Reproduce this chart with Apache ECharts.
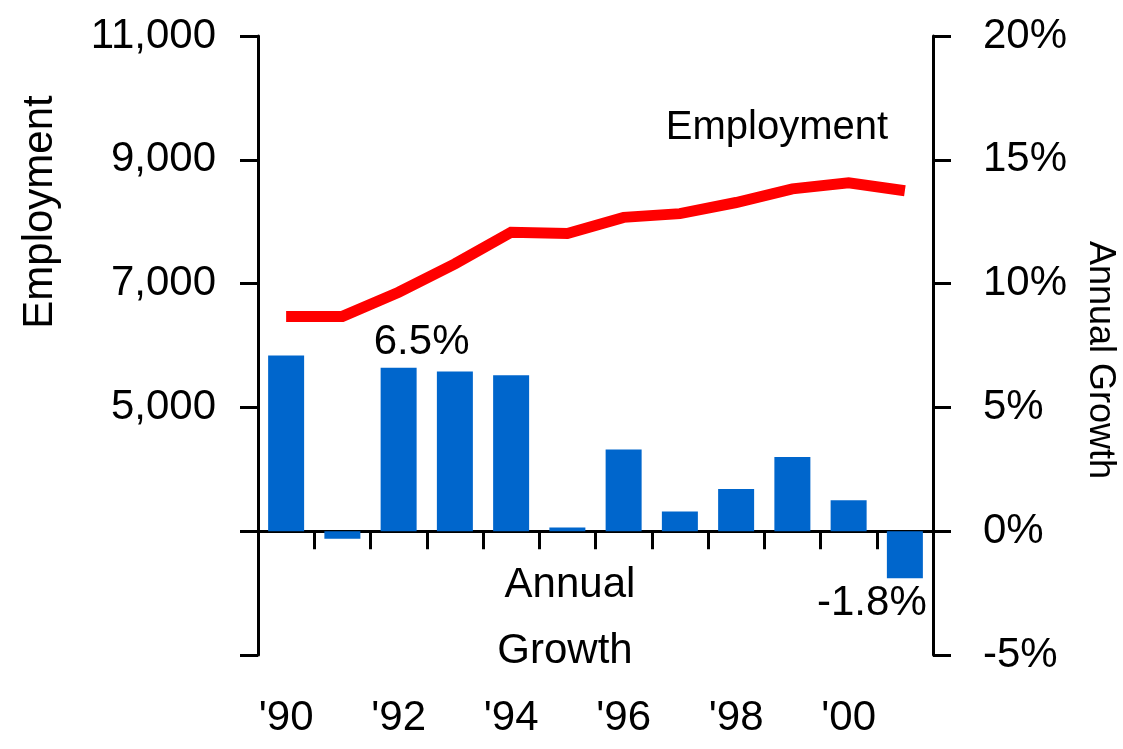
<!DOCTYPE html>
<html>
<head>
<meta charset="utf-8">
<script src="https://cdn.jsdelivr.net/npm/echarts@6/dist/echarts.min.js"></script>
<style>
  html, body { margin: 0; padding: 0; background: #ffffff; }
  #chart { width: 1123px; height: 749px; }
</style>
</head>
<body>
<div id="chart"></div>
<script>
// ---- data ----
var years = ["'90", "'91", "'92", "'93", "'94", "'95", "'96", "'97", "'98", "'99", "'00", "'01"];
var employment = [6470, 6470, 6860, 7320, 7830, 7810, 8070, 8130, 8310, 8530, 8630, 8500];
var annualGrowth = [7.1, -0.3, 6.6, 6.45, 6.3, 0.15, 3.3, 0.8, 1.7, 3.0, 1.25, -1.9];
var growthNotes = [null, null, '6.5%', null, null, null, null, null, null, null, null, '-1.8%'];
var leftTickLabels = { 1000: '', 3000: '', 5000: '5,000', 7000: '7,000', 9000: '9,000', 11000: '11,000' };
var rightTickLabels = { '-5': '-5%', '0': '0%', '5': '5%', '10': '10%', '15': '15%', '20': '20%' };

var FONT = "'Liberation Sans', Arial, sans-serif";

var noteOffsets = { 2: [23, 0], 11: [-33, 0] };
var barData = annualGrowth.map(function (v, i) {
  if (!growthNotes[i]) return v;
  return {
    value: v,
    label: {
      show: true,
      position: v >= 0 ? 'top' : 'bottom',
      distance: 4,
      offset: noteOffsets[i] || [0, 0],
      formatter: growthNotes[i],
      fontFamily: FONT,
      fontSize: 42,
      color: '#000'
    }
  };
});

var chart = echarts.init(document.getElementById('chart'), null, { renderer: 'canvas' });
chart.setOption({
  animation: false,
  backgroundColor: '#ffffff',
  grid: { left: 258, right: 190, top: 36, bottom: 94, containLabel: false, outerBoundsMode: 'none' },
  xAxis: {
    type: 'category',
    data: years,
    boundaryGap: true,
    axisLine: { show: true, onZero: true, onZeroAxisIndex: 1, lineStyle: { color: '#000', width: 3 } },
    axisTick: { show: true, inside: false, length: 18, interval: 0, lineStyle: { color: '#000', width: 3 } },
    axisLabel: { interval: 1, margin: 42, fontFamily: FONT, fontSize: 42, color: '#000' },
    splitLine: { show: false }
  },
  yAxis: [
    {
      type: 'value',
      position: 'left',
      min: 1000, max: 11000, interval: 2000,
      axisLine: { show: true, lineStyle: { color: '#000', width: 3 } },
      axisTick: { show: true, inside: false, length: 18, lineStyle: { color: '#000', width: 3 } },
      axisLabel: {
        margin: 42, fontFamily: FONT, fontSize: 42, color: '#000',
        formatter: function (v) { return leftTickLabels[v] !== undefined ? leftTickLabels[v] : ''; }
      },
      splitLine: { show: false }
    },
    {
      type: 'value',
      position: 'right',
      min: -5, max: 20, interval: 5,
      axisLine: { show: true, lineStyle: { color: '#000', width: 3 } },
      axisTick: { show: true, inside: false, length: 18, lineStyle: { color: '#000', width: 3 } },
      axisLabel: {
        margin: 50, fontFamily: FONT, fontSize: 42, color: '#000',
        formatter: function (v) { return rightTickLabels[String(v)] || ''; }
      },
      splitLine: { show: false }
    }
  ],
  series: [
    {
      name: 'Annual Growth',
      type: 'bar',
      yAxisIndex: 1,
      data: barData,
      barWidth: '64%',
      itemStyle: { color: '#0066CC' },
      z: 2
    },
    {
      name: 'Employment',
      type: 'line',
      yAxisIndex: 0,
      data: employment,
      showSymbol: false,
      symbol: 'none',
      lineStyle: { color: '#FF0000', width: 11, cap: 'butt', join: 'miter' },
      z: 3
    }
  ],
  graphic: [
    { type: 'text', x: 40, y: 212, rotation: Math.PI / 2,
      style: { text: 'Employment', font: '42px ' + FONT, fill: '#000', textAlign: 'center', textVerticalAlign: 'middle' } },
    { type: 'text', x: 777, y: 128,
      style: { text: 'Employment', font: '40px ' + FONT, fill: '#000', textAlign: 'center', textVerticalAlign: 'middle' } },
    { type: 'text', x: 570, y: 585,
      style: { text: 'Annual', font: '42px ' + FONT, fill: '#000', textAlign: 'center', textVerticalAlign: 'middle' } },
    { type: 'text', x: 565, y: 651,
      style: { text: 'Growth', font: '42px ' + FONT, fill: '#000', textAlign: 'center', textVerticalAlign: 'middle' } },
    { type: 'text', x: 1100, y: 360, rotation: -Math.PI / 2,
      style: { text: 'Annual Growth', font: '36px ' + FONT, fill: '#000', textAlign: 'center', textVerticalAlign: 'middle' } }
  ]
});
</script>
</body>
</html>
